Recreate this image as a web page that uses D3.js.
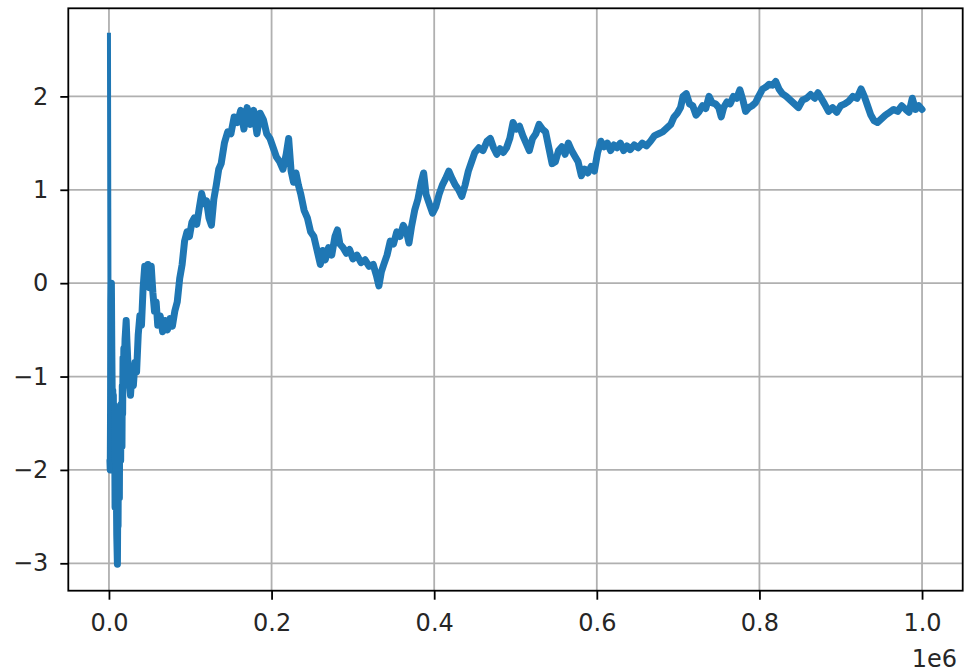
<!DOCTYPE html>
<html lang="en">
<head>
<meta charset="UTF-8">
<title>Running mean of a random walk</title>
<script src="https://d3js.org/d3.v7.min.js"></script>
<style>
    body { margin: 0; background: #fff; }
    svg { display: block; }
    text { font-family: "DejaVu Sans", sans-serif; font-size: 24px; fill: #262626; }
</style>
</head>
<body>
<svg width="964" height="672"></svg>
<script>
    // x in units of 1e6 steps, y = value
    const xTicks = [0, 0.2, 0.4, 0.6, 0.8, 1.0];
    const yTicks = [-3, -2, -1, 0, 1, 2];
    const xOffsetLabel = "1e6";

    const walk = [
        [0, 2.66], [0.0004, 0.8], [0.0008, -1.0], [0.0012, -1.9], [0.0016, -2.0],
        [0.002, -1.3], [0.0025, -0.2], [0.003, 0.0], [0.0035, -0.7], [0.004, -1.2],
        [0.0043, -1.7], [0.0047, -1.15], [0.005, -1.75], [0.0054, -1.2], [0.0058, -1.8],
        [0.0062, -1.3], [0.0066, -1.85], [0.007, -1.5], [0.0075, -2.4], [0.008, -1.9],
        [0.0085, -2.4], [0.009, -2.1], [0.0096, -2.7], [0.0104, -3.01], [0.0108, -2.4],
        [0.0112, -2.6], [0.0116, -1.9], [0.012, -2.2], [0.0124, -1.6], [0.0128, -2.3],
        [0.0132, -1.5], [0.0136, -1.9], [0.014, -1.4], [0.0144, -1.9], [0.0148, -1.3],
        [0.0152, -1.6], [0.016, -1.75], [0.0164, -1.1], [0.0168, -1.4], [0.0173, -0.8],
        [0.0178, -1.1], [0.0183, -0.7], [0.0188, -1.0], [0.0198, -0.6], [0.0212, -0.4],
        [0.022, -0.6], [0.0235, -0.9], [0.025, -1.05], [0.0265, -1.2], [0.028, -1.0],
        [0.03, -1.1], [0.032, -0.85], [0.034, -0.95], [0.036, -0.55], [0.038, -0.35],
        [0.04, -0.45], [0.042, -0.05], [0.044, 0.18], [0.046, 0.0], [0.048, 0.2],
        [0.05, -0.05], [0.052, 0.18], [0.054, -0.1], [0.056, -0.3], [0.058, -0.2],
        [0.06, -0.45], [0.063, -0.35], [0.066, -0.52], [0.069, -0.4], [0.072, -0.5],
        [0.075, -0.38], [0.078, -0.46], [0.081, -0.3], [0.084, -0.2], [0.087, 0.05],
        [0.09, 0.2], [0.093, 0.45], [0.096, 0.55], [0.099, 0.5], [0.102, 0.65],
        [0.105, 0.7], [0.108, 0.63], [0.111, 0.8], [0.114, 0.96], [0.117, 0.85],
        [0.12, 0.88], [0.123, 0.7], [0.126, 0.62], [0.129, 0.9], [0.132, 1.05],
        [0.135, 1.22], [0.138, 1.28], [0.142, 1.5], [0.146, 1.62], [0.15, 1.6],
        [0.154, 1.78], [0.158, 1.72], [0.162, 1.85], [0.166, 1.65], [0.17, 1.88],
        [0.174, 1.7], [0.178, 1.85], [0.182, 1.6], [0.186, 1.82], [0.19, 1.75],
        [0.194, 1.6], [0.198, 1.55], [0.202, 1.45], [0.206, 1.35], [0.21, 1.3],
        [0.214, 1.22], [0.218, 1.38], [0.221, 1.55], [0.224, 1.2], [0.227, 1.08],
        [0.23, 1.18], [0.233, 1.05], [0.236, 0.95], [0.24, 0.78], [0.244, 0.7],
        [0.248, 0.55], [0.252, 0.5], [0.256, 0.35], [0.26, 0.2], [0.263, 0.35],
        [0.266, 0.25], [0.27, 0.38], [0.274, 0.3], [0.278, 0.5], [0.281, 0.57],
        [0.284, 0.42], [0.288, 0.38], [0.292, 0.32], [0.296, 0.36], [0.3, 0.26],
        [0.305, 0.3], [0.31, 0.22], [0.315, 0.25], [0.32, 0.18], [0.325, 0.2],
        [0.329, 0.08], [0.332, -0.03], [0.335, 0.12], [0.338, 0.2], [0.342, 0.3],
        [0.346, 0.45], [0.35, 0.42], [0.354, 0.55], [0.358, 0.5], [0.362, 0.62],
        [0.366, 0.55], [0.369, 0.43], [0.372, 0.6], [0.376, 0.78], [0.38, 0.9],
        [0.384, 1.08], [0.387, 1.18], [0.39, 0.95], [0.394, 0.85], [0.398, 0.75],
        [0.402, 0.82], [0.406, 0.95], [0.41, 1.05], [0.414, 1.12], [0.418, 1.2],
        [0.422, 1.12], [0.426, 1.05], [0.43, 1.0], [0.434, 0.93], [0.438, 1.05],
        [0.442, 1.2], [0.446, 1.3], [0.45, 1.4], [0.455, 1.45], [0.46, 1.42],
        [0.465, 1.52], [0.469, 1.55], [0.473, 1.45], [0.477, 1.38], [0.481, 1.44],
        [0.485, 1.4], [0.489, 1.45], [0.493, 1.55], [0.497, 1.72], [0.501, 1.65],
        [0.505, 1.68], [0.509, 1.58], [0.513, 1.5], [0.517, 1.42], [0.521, 1.55],
        [0.525, 1.6], [0.529, 1.7], [0.533, 1.65], [0.537, 1.62], [0.541, 1.45],
        [0.545, 1.28], [0.549, 1.3], [0.553, 1.42], [0.557, 1.46], [0.561, 1.38],
        [0.565, 1.5], [0.569, 1.42], [0.573, 1.36], [0.577, 1.3], [0.581, 1.15],
        [0.585, 1.22], [0.589, 1.18], [0.593, 1.25], [0.597, 1.2], [0.601, 1.4],
        [0.605, 1.52], [0.609, 1.46], [0.613, 1.5], [0.617, 1.42], [0.621, 1.48],
        [0.625, 1.45], [0.629, 1.5], [0.633, 1.42], [0.637, 1.47], [0.641, 1.43],
        [0.646, 1.48], [0.651, 1.45], [0.656, 1.5], [0.661, 1.47], [0.666, 1.52],
        [0.671, 1.58], [0.676, 1.6], [0.681, 1.62], [0.686, 1.66], [0.691, 1.7],
        [0.695, 1.78], [0.699, 1.82], [0.703, 1.88], [0.706, 2.0], [0.71, 2.03],
        [0.714, 1.92], [0.718, 1.9], [0.722, 1.8], [0.726, 1.84], [0.73, 1.9],
        [0.734, 1.87], [0.738, 2.0], [0.742, 1.93], [0.746, 1.92], [0.75, 1.88],
        [0.753, 1.78], [0.756, 1.88], [0.76, 1.94], [0.764, 1.92], [0.768, 2.0],
        [0.772, 1.98], [0.776, 2.07], [0.78, 1.95], [0.783, 1.84], [0.787, 1.88],
        [0.791, 1.9], [0.795, 1.93], [0.799, 2.0], [0.804, 2.08], [0.808, 2.1],
        [0.812, 2.13], [0.816, 2.12], [0.82, 2.16], [0.824, 2.08], [0.828, 2.03],
        [0.833, 2.0], [0.838, 1.96], [0.843, 1.92], [0.848, 1.88], [0.853, 1.96],
        [0.858, 1.98], [0.863, 2.02], [0.868, 1.98], [0.872, 2.04], [0.876, 1.98],
        [0.88, 1.92], [0.885, 1.84], [0.89, 1.88], [0.895, 1.83], [0.9, 1.9],
        [0.905, 1.92], [0.91, 1.95], [0.915, 2.0], [0.92, 1.98], [0.925, 2.08],
        [0.929, 2.0], [0.933, 1.9], [0.937, 1.8], [0.941, 1.74], [0.945, 1.72],
        [0.95, 1.76], [0.955, 1.8], [0.96, 1.83], [0.965, 1.86], [0.97, 1.84],
        [0.975, 1.9], [0.98, 1.86], [0.984, 1.83], [0.988, 1.98], [0.992, 1.86],
        [0.996, 1.9], [1.0, 1.86]
    ];

    const width = 964, height = 672;
    const margin = { top: 8.3, right: 1.3, bottom: 81.3, left: 68.3 };
    const innerW = width - margin.left - margin.right,
          innerH = height - margin.top - margin.bottom;

    // matplotlib style: 5% padding around the data
    function padded(ext) {
        const p = (ext[1] - ext[0]) * 0.05;
        return [ext[0] - p, ext[1] + p];
    }

    const x = d3.scaleLinear()
        .domain(padded(d3.extent(walk, d => d[0])))
        .range([0, innerW]);
    const y = d3.scaleLinear()
        .domain(padded(d3.extent(walk, d => d[1])))
        .range([innerH, 0]);

    const svg = d3.select("svg");
    const g = svg.append("g").attr("transform", `translate(${margin.left},${margin.top})`);

    // grid
    g.append("g").selectAll("line")
        .data(xTicks)
        .enter().append("line")
        .attr("x1", d => x(d)).attr("x2", d => x(d))
        .attr("y1", 0).attr("y2", innerH)
        .attr("stroke", "#b0b0b0").attr("stroke-width", 1.8);
    g.append("g").selectAll("line")
        .data(yTicks)
        .enter().append("line")
        .attr("x1", 0).attr("x2", innerW)
        .attr("y1", d => y(d)).attr("y2", d => y(d))
        .attr("stroke", "#b0b0b0").attr("stroke-width", 1.8);

    // line: the first drop is a single thin stroke, the rest is a dense noisy band
    const line = d3.line().x(d => x(d[0])).y(d => y(d[1]));
    const firstDrop = walk.filter(d => d[0] <= 0.0016);
    const rest = walk.filter(d => d[0] >= 0.0012);

    g.append("path")
        .datum(rest)
        .attr("d", line)
        .attr("fill", "none")
        .attr("stroke", "#1f77b4")
        .attr("stroke-width", 7)
        .attr("stroke-linejoin", "round")
        .attr("stroke-linecap", "round");
    g.append("path")
        .datum(firstDrop)
        .attr("d", line)
        .attr("fill", "none")
        .attr("stroke", "#1f77b4")
        .attr("stroke-width", 4)
        .attr("stroke-linejoin", "round")
        .attr("stroke-linecap", "square");

    // axes
    const fmtX = d3.format(".1f");
    const fmtY = d => d < 0 ? "\u2212" + Math.abs(d) : String(d);

    const xAxis = g.append("g")
        .attr("transform", `translate(0,${innerH})`)
        .call(d3.axisBottom(x).tickValues(xTicks).tickFormat(fmtX).tickSize(9).tickPadding(14));
    const yAxis = g.append("g")
        .call(d3.axisLeft(y).tickValues(yTicks).tickFormat(fmtY).tickSize(8).tickPadding(12));

    [xAxis, yAxis].forEach(a => {
        a.select(".domain").remove();
        a.selectAll(".tick line").attr("stroke", "#000").attr("stroke-width", 1.8);
        a.selectAll(".tick text").attr("font-family", null).attr("font-size", null);
    });

    // frame
    g.append("rect")
        .attr("width", innerW).attr("height", innerH)
        .attr("fill", "none").attr("stroke", "#000").attr("stroke-width", 1.8);

    // offset label
    svg.append("text")
        .attr("x", width - 7)
        .attr("y", 667)
        .attr("text-anchor", "end")
        .text(xOffsetLabel);
</script>
</body>
</html>
